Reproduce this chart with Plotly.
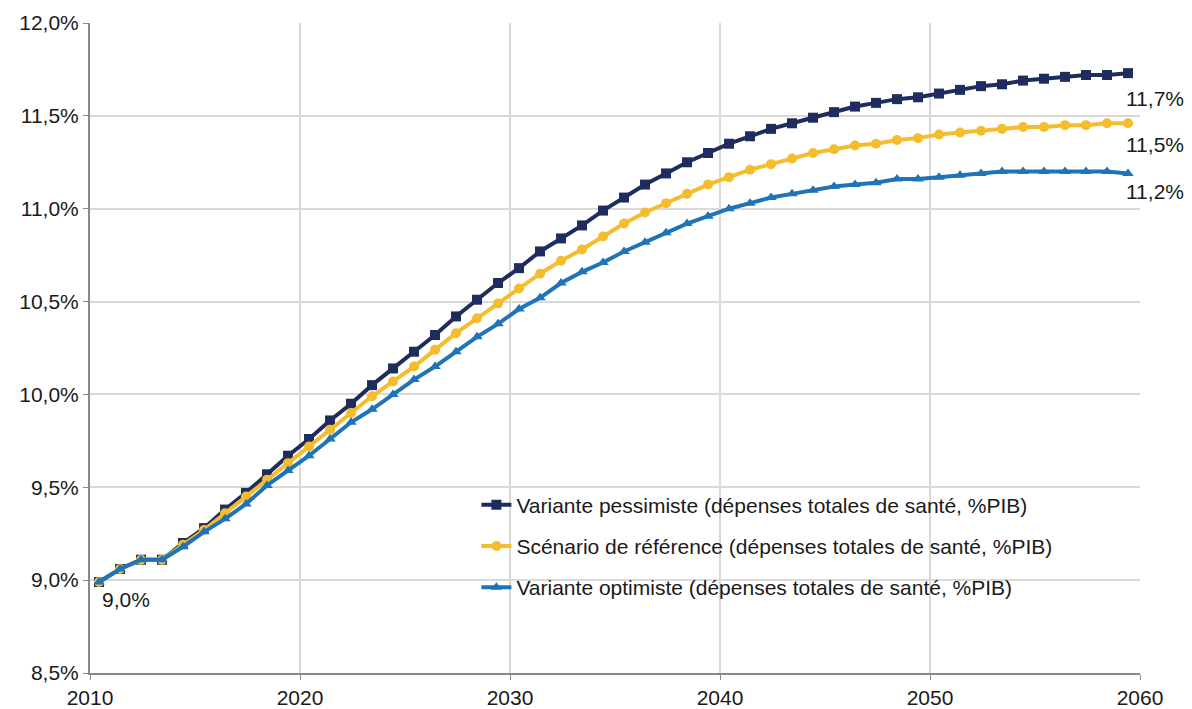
import plotly.graph_objects as go

years = list(range(2010, 2060))

pessimiste = [8.99, 9.06, 9.11, 9.11, 9.20, 9.28, 9.38, 9.47, 9.57, 9.67,
              9.76, 9.86, 9.95, 10.05, 10.14, 10.23, 10.32, 10.42, 10.51, 10.60,
              10.68, 10.77, 10.84, 10.91, 10.99, 11.06, 11.13, 11.19, 11.25, 11.30,
              11.35, 11.39, 11.43, 11.46, 11.49, 11.52, 11.55, 11.57, 11.59, 11.60,
              11.62, 11.64, 11.66, 11.67, 11.69, 11.70, 11.71, 11.72, 11.72, 11.73]

reference = [8.99, 9.06, 9.11, 9.11, 9.19, 9.27, 9.36, 9.45, 9.54, 9.63,
             9.72, 9.81, 9.90, 9.99, 10.07, 10.15, 10.24, 10.33, 10.41, 10.49,
             10.57, 10.65, 10.72, 10.78, 10.85, 10.92, 10.98, 11.03, 11.08, 11.13,
             11.17, 11.21, 11.24, 11.27, 11.30, 11.32, 11.34, 11.35, 11.37, 11.38,
             11.40, 11.41, 11.42, 11.43, 11.44, 11.44, 11.45, 11.45, 11.46, 11.46]

optimiste = [8.99, 9.06, 9.11, 9.11, 9.18, 9.26, 9.33, 9.41, 9.51, 9.59,
             9.67, 9.76, 9.85, 9.92, 10.00, 10.08, 10.15, 10.23, 10.31, 10.38,
             10.46, 10.52, 10.60, 10.66, 10.71, 10.77, 10.82, 10.87, 10.92, 10.96,
             11.00, 11.03, 11.06, 11.08, 11.10, 11.12, 11.13, 11.14, 11.16, 11.16,
             11.17, 11.18, 11.19, 11.20, 11.20, 11.20, 11.20, 11.20, 11.20, 11.19]

names = ["Variante pessimiste (dépenses totales de santé, %PIB)",
         "Scénario de référence (dépenses totales de santé, %PIB)",
         "Variante optimiste (dépenses totales de santé, %PIB)"]
series = [pessimiste, reference, optimiste]

y_ticks = [8.5, 9.0, 9.5, 10.0, 10.5, 11.0, 11.5, 12.0]
x_ticks = [2010, 2020, 2030, 2040, 2050, 2060]

colors = ["#1f2c5e", "#f5bd2e", "#1f74b8"]
symbols = ["square", "circle", "triangle-up"]
end_label_yshift = [-12, -8, -5]

x_offset = 0.43
xs = [y + x_offset for y in years]

FONT = "Liberation Sans, Arial, sans-serif"
TXT = "#1a1a1a"
FS = 21


def fmt(v):
    return f"{v:.1f}%".replace(".", ",")


fig = go.Figure()
for i, (nm, col, sym, vals) in enumerate(zip(names, colors, symbols, series)):
    fig.add_trace(go.Scatter(
        x=xs, y=vals, mode="lines+markers", name=nm,
        legendgroup=f"g{i}",
        line=dict(color=col, width=4),
        marker=dict(symbol=sym, size=10, color=col),
    ))

annotations = [
    dict(x=xs[0], y=reference[0], text=fmt(reference[0]), showarrow=False,
         xanchor="left", yanchor="top", xshift=1, yshift=-4,
         font=dict(size=FS, color=TXT, family=FONT)),
]
for vals, ys in zip(series, end_label_yshift):
    annotations.append(dict(x=xs[-1], y=vals[-1], text=fmt(vals[-1]), showarrow=False,
                            xanchor="left", yanchor="top", xshift=-4, yshift=ys,
                            font=dict(size=FS, color=TXT, family=FONT)))

fig.update_layout(
    width=1192, height=709,
    margin=dict(l=82, r=60, t=15, b=44, autoexpand=False),
    plot_bgcolor="white", paper_bgcolor="white",
    font=dict(family=FONT, size=FS, color=TXT),
    showlegend=True,
    legend=dict(x=0.368, y=0.290, xanchor="left", yanchor="top",
                bgcolor="rgba(0,0,0,0)", tracegroupgap=11,
                font=dict(size=FS, family=FONT, color=TXT)),
    xaxis=dict(range=[2010, 2060], tickmode="array", automargin=False,
               tickvals=x_ticks, ticktext=[str(t) for t in x_ticks],
               showgrid=True, gridcolor="#d9d9d9", gridwidth=1.5,
               showline=True, linecolor="#898989", linewidth=2,
               ticks="outside", ticklen=5, tickcolor="#898989",
               tickfont=dict(size=FS), zeroline=False),
    yaxis=dict(range=[8.5, 12.0], tickmode="array", automargin=False,
               tickvals=y_ticks, ticktext=[fmt(t) for t in y_ticks],
               showgrid=True, gridcolor="#d9d9d9", gridwidth=1.5,
               showline=True, linecolor="#898989", linewidth=2,
               ticks="outside", ticklen=5, tickcolor="#898989",
               tickfont=dict(size=FS), zeroline=False),
    annotations=annotations,
)

fig.write_html("out.html")
